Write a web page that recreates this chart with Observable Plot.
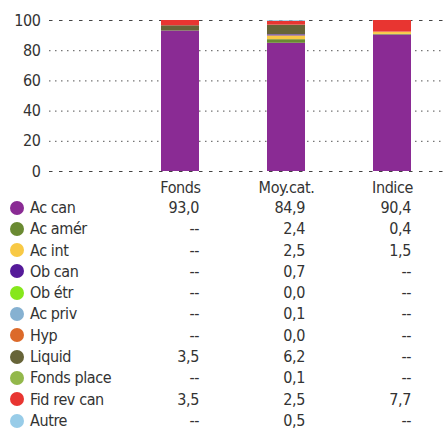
<!DOCTYPE html>
<html><head><meta charset="utf-8">
<script src="https://cdn.jsdelivr.net/npm/d3@7"></script>
<script src="https://cdn.jsdelivr.net/npm/@observablehq/plot@0.6"></script>
<style>
body{margin:0;background:#fff;font-family:"DejaVu Sans Condensed",sans-serif;color:#333;}
#chart svg{display:block;}
#chart svg text{letter-spacing:-0.4px;}
.row{position:relative;height:21.3px;line-height:21.3px;font-size:16px;letter-spacing:-0.4px;width:445px;}
.dot{position:absolute;left:10px;top:3.6px;width:14px;height:14px;border-radius:50%;}
.lab{position:absolute;left:30px;}
.val{position:absolute;text-align:right;}
</style></head>
<body>
<div id="chart"></div>
<div id="table"></div>
<script>
const categories = ["Fonds", "Moy.cat.", "Indice"];
const series = ["Ac can", "Ac amér", "Ac int", "Ob can", "Ob étr", "Ac priv", "Hyp", "Liquid", "Fonds place", "Fid rev can", "Autre"];
const fonds  = [93.0, null, null, null, null, null, null, 3.5, null, 3.5, null];
const moycat = [84.9, 2.4, 2.5, 0.7, 0.0, 0.1, 0.0, 6.2, 0.1, 2.5, 0.5];
const indice = [90.4, 0.4, 1.5, null, null, null, null, null, null, 7.7, null];
const colors = ["#8a2b94", "#6a8a32", "#f8c945", "#551a99", "#86e71c", "#86b1d1", "#dc6a2a", "#676438", "#93b84b", "#e83531", "#98cce8"];
const yTicks = [0, 20, 40, 60, 80, 100];

const columns = [fonds, moycat, indice];
const data = categories.flatMap((c, ci) => series.map((s, si) => ({cat: c, series: s, value: columns[ci][si] ?? 0})));

const chart = Plot.plot({
  width: 445, height: 197,
  marginLeft: 49, marginRight: 0, marginTop: 20, marginBottom: 26,
  style: {fontFamily: '"DejaVu Sans Condensed",sans-serif', fontSize: "16px", color: "#333"},
  x: {domain: categories, paddingInner: 0.643, paddingOuter: 0.685, align: 0.767, label: null, tickSize: 0, tickPadding: 10},
  y: {domain: [0, 100], ticks: yTicks, label: null, tickSize: 0, tickPadding: 9},
  color: {domain: series, range: colors},
  marks: [
    Plot.ruleY([20, 40, 60, 80], {stroke: "#777", strokeWidth: 1.3, strokeDasharray: "1.5,4.5"}),
    Plot.ruleY([0, 100], {stroke: "#444", strokeWidth: 1.2, strokeDasharray: "3.5,6.5"}),
    Plot.barY(data, {x: "cat", y: "value", fill: "series", order: series}),
    Plot.axisY({ticks: yTicks, tickSize: 0, tickPadding: 9, fontSize: 16, label: null}),
    Plot.axisX({tickSize: 0, tickPadding: 10, fontSize: 16, label: null})
  ]
});
document.getElementById("chart").append(chart);

const rights = categories.map(c => {
  const sc = chart.scale("x");
  return 445 - (sc.apply(c) + sc.bandwidth);
});
const fmt = v => v == null ? "--" : v.toFixed(1).replace(".", ",");
const table = document.getElementById("table");
series.forEach((s, i) => {
  const row = document.createElement("div");
  row.className = "row";
  let html = `<span class="dot" style="background:${colors[i]}"></span><span class="lab">${s}</span>`;
  columns.forEach((col, ci) => {
    html += `<span class="val" style="right:${rights[ci]}px">${fmt(col[i])}</span>`;
  });
  row.innerHTML = html;
  table.append(row);
});
</script>
</body></html>
